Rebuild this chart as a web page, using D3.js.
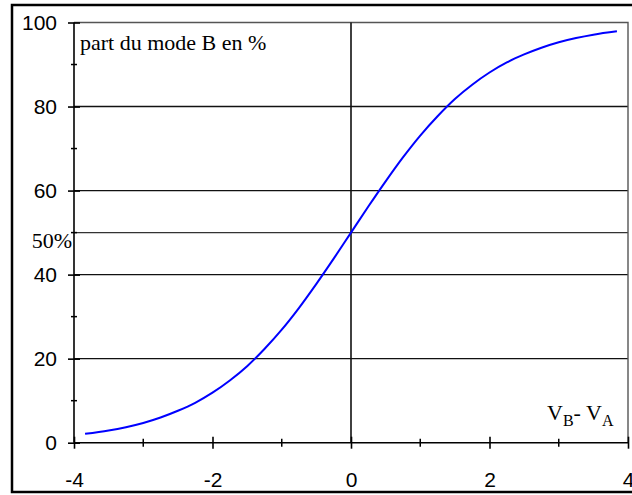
<!DOCTYPE html>
<html><head><meta charset="utf-8">
<script src="https://cdn.jsdelivr.net/npm/d3@7"></script>
<style>body{margin:0;background:#fff}svg{display:block}</style>
</head><body>
<script>
// Data
const xValues = [-3.84,-3.5,-3.25,-3,-2.75,-2.5,-2.25,-2,-1.75,-1.5,-1.25,-1,-0.75,-0.5,-0.25,0,0.25,0.5,0.75,1,1.25,1.5,1.75,2,2.25,2.5,2.75,3,3.25,3.5,3.84];
const shareB  = [2.1,2.9,3.7,4.7,6.0,7.6,9.5,11.9,14.8,18.2,22.3,26.9,32.1,37.8,43.8,50,56.2,62.2,67.9,73.1,77.7,81.8,85.2,88.1,90.5,92.4,94.0,95.3,96.3,97.1,97.9];
const xTicks = [-4,-2,0,2,4];
const xMinorTicks = [-3,-1,1,3];
const yTicks = [0,20,40,60,80,100];
const yMinorTicks = [10,30,50,70,90];
const yGrid = [20,40,60,80];
const yTitle = "part du mode B en %";
const midLabel = "50%";

const W = 632, H = 495;
const svg = d3.select("body").append("svg").attr("width", W).attr("height", H);

const x = d3.scaleLinear().domain([-4,4]).range([74,628]);
const y = d3.scaleLinear().domain([0,100]).range([442.7,22.5]);

// outer frame
svg.append("rect").attr("x",12).attr("y",5).attr("width",640).attr("height",487)
  .attr("fill","none").attr("stroke","#000").attr("stroke-width",2.5);

// gridlines
svg.append("g").selectAll("line").data(yGrid).join("line")
  .attr("x1",x(-4)).attr("x2",x(4)).attr("y1",d=>y(d)).attr("y2",d=>y(d))
  .attr("stroke","#111").attr("stroke-width",1.4);
// 50% line
svg.append("line").attr("x1",x(-4)).attr("x2",x(4)).attr("y1",y(50)).attr("y2",y(50))
  .attr("stroke","#333").attr("stroke-width",1.4);
// top & right plot edges
svg.append("path").attr("d",`M${x(-4)},${y(100)}H${x(4)}V${y(0)}`)
  .attr("fill","none").attr("stroke","#555").attr("stroke-width",1.4);
// vertical line at 0
svg.append("line").attr("x1",x(0)).attr("x2",x(0)).attr("y1",y(100)).attr("y2",y(0))
  .attr("stroke","#111").attr("stroke-width",1.6);

const fmt = d => String(d);
// axes
const xAxis = svg.append("g").attr("transform",`translate(0,${y(0)})`)
  .call(d3.axisBottom(x).tickValues(xTicks).tickSize(6).tickFormat(fmt));
xAxis.select(".domain").remove();
xAxis.append("line").attr("x1",x(-4)).attr("x2",x(4)).attr("stroke","#000").attr("stroke-width",1.6);
xAxis.selectAll(".tick line").attr("y1",-6).attr("stroke","#000").attr("stroke-width",1.6);
xAxis.selectAll(".tick text").attr("y",29).attr("dy","0.71em")
  .style("font-family","Liberation Sans, Arial, sans-serif").style("font-size","21px").attr("fill","#000");
svg.append("g").selectAll("line").data(xMinorTicks).join("line")
  .attr("x1",d=>x(d)).attr("x2",d=>x(d)).attr("y1",y(0)-4).attr("y2",y(0)+4)
  .attr("stroke","#000").attr("stroke-width",1.5);

const yAxis = svg.append("g").attr("transform",`translate(${x(-4)},0)`)
  .call(d3.axisLeft(y).tickValues(yTicks).tickSize(6).tickFormat(fmt));
yAxis.select(".domain").remove();
yAxis.append("line").attr("y1",y(0)).attr("y2",y(100)).attr("stroke","#000").attr("stroke-width",1.6);
yAxis.selectAll(".tick line").attr("x1",6).attr("stroke","#000").attr("stroke-width",1.6);
yAxis.selectAll(".tick text").attr("x",-17)
  .style("font-family","Liberation Sans, Arial, sans-serif").style("font-size","21px").attr("fill","#000");
svg.append("g").selectAll("line").data(yMinorTicks).join("line")
  .attr("x1",x(-4)-3).attr("x2",x(-4)+3).attr("y1",d=>y(d)).attr("y2",d=>y(d))
  .attr("stroke","#000").attr("stroke-width",1.5);

// curve
const pts = xValues.map((v,i)=>[v,shareB[i]]);
svg.append("path").datum(pts)
  .attr("d", d3.line().x(d=>x(d[0])).y(d=>y(d[1])).curve(d3.curveMonotoneX))
  .attr("fill","none").attr("stroke","#0000ff").attr("stroke-width",2);

// texts
const serif = "Liberation Serif, Times New Roman, serif";
svg.append("text").attr("x",80).attr("y",50).text(yTitle)
  .style("font-family",serif).style("font-size","22px");
svg.append("text").attr("x",72).attr("y",y(50)+15).attr("text-anchor","end").text(midLabel)
  .style("font-family",serif).style("font-size","22px");
const lab = svg.append("text").attr("x",547).attr("y",420)
  .style("font-family",serif).style("font-size","22px");
lab.append("tspan").text("V");
lab.append("tspan").attr("dy",6).style("font-size","16px").text("B");
lab.append("tspan").attr("dy",-6).text("- V");
lab.append("tspan").attr("dy",6).style("font-size","16px").text("A");
</script>
</body></html>
